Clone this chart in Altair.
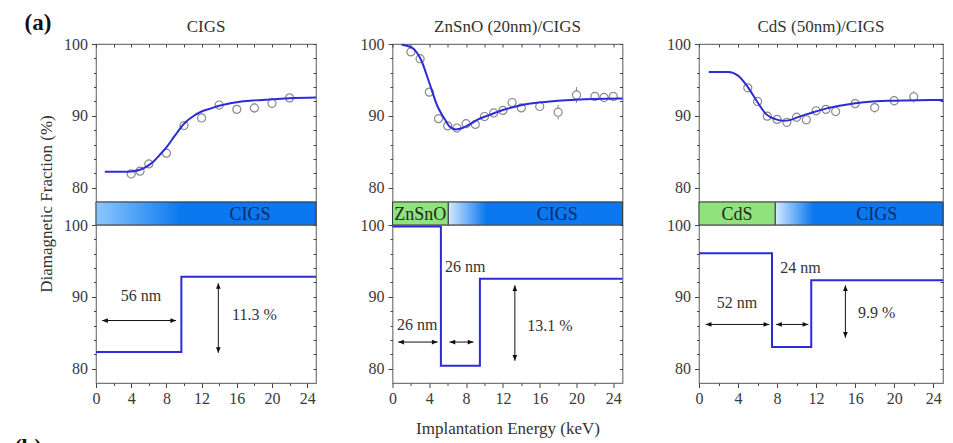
import altair as alt
import pandas as pd

FONT = "Liberation Serif"
LINE = "#2b2bd9"
GRAY = "#8a8a8a"
GREEN = "#8fe27e"
BLUE = "#0b78ef"
EDGE = "#3a3a3a"
TXT = "#333333"

# ---------------- data ----------------
panel_titles = ["CIGS", "ZnSnO (20nm)/CIGS", "CdS (50nm)/CIGS"]

# measured diamagnetic fraction (top panels)
cigs_x = [4, 5, 6, 8, 10, 12, 14, 16, 18, 20, 22]
cigs_y = [81.9, 82.3, 83.3, 84.8, 88.65, 89.7, 91.5, 90.9, 91.1, 91.75, 92.5]
cigs_err = [0.3, 0.3, 0.3, 0.4, 0.4, 0.4, 0.5, 0.5, 0.7, 0.7, 0.5]

zto_x = [2, 3, 4, 5, 6, 7, 8, 9, 10, 11, 12, 13, 14, 16, 18, 20, 22, 23, 24]
zto_y = [98.9, 97.95, 93.3, 89.6, 88.6, 88.3, 88.9, 88.8, 89.9, 90.4, 90.75, 91.85,
         91.1, 91.3, 90.5, 92.9, 92.7, 92.55, 92.7]
zto_err = [0.5, 0.5, 0.5, 0.4, 0.4, 0.4, 0.4, 0.4, 0.4, 0.4, 0.4, 0.5, 0.5, 0.6,
           1.0, 1.1, 0.5, 0.5, 0.5]

cds_x = [5, 6, 7, 8, 9, 10, 11, 12, 13, 14, 16, 18, 20, 22]
cds_y = [93.9, 92.0, 89.95, 89.5, 89.1, 89.8, 89.45, 90.7, 90.9, 90.6, 91.7, 91.15,
         92.1, 92.65]
cds_err = [0.4, 0.4, 0.4, 0.4, 0.4, 0.4, 0.4, 0.5, 0.5, 0.5, 0.5, 0.7, 0.7, 0.8]

# fitted curves (top panels)
cigs_fit_x = [1, 2, 3, 4, 5, 5.8, 6.5, 7.2, 8, 9, 10, 11, 12, 13, 14, 16, 18, 20, 22, 25]
cigs_fit_y = [82.2, 82.2, 82.2, 82.25, 82.5, 82.95, 83.6, 84.5, 85.6, 87.3, 88.9, 89.9,
              90.6, 91.0, 91.4, 91.9, 92.15, 92.3, 92.45, 92.55]
zto_fit_x = [1, 2.1, 3.1, 4, 4.9, 5.6, 6.2, 6.9, 7.6, 8.3, 9.3, 10.5, 12, 13.4, 15, 16.3,
             18, 19.9, 22, 25]
zto_fit_y = [99.9, 99.5, 97.8, 94.6, 91.3, 89.7, 88.5, 88.1, 88.3, 88.75, 89.5, 90.1,
             90.8, 91.3, 91.7, 91.9, 92.1, 92.25, 92.35, 92.4]
cds_fit_x = [1, 2, 3, 4, 4.9, 5.9, 6.9, 7.9, 8.6, 9.3, 10, 11, 11.7, 13, 14.4, 16, 17.8,
             19.5, 21.2, 25]
cds_fit_y = [96.1, 96.1, 96.1, 95.6, 94.2, 92.1, 90.2, 89.5, 89.3, 89.4, 89.75, 90.2,
             90.5, 91.0, 91.4, 91.75, 92.0, 92.1, 92.15, 92.2]

# step profiles (bottom panels)
cigs_step_x = [0, 9.7, 25]
cigs_step_y = [82.3, 92.8, 92.8]
zto_step_x = [0, 5.26, 9.5, 25]
zto_step_y = [99.8, 80.4, 92.5, 92.5]
cds_step_x = [0, 7.48, 11.5, 25]
cds_step_y = [96.05, 83.0, 92.3, 92.3]

# annotations: horizontal arrows (x1, x2, y), vertical arrows (x, ytop, ybottom), labels
harrows = [
    [(0.7, 9.1, 86.7)],
    [(0.62, 4.9, 83.7), (6.2, 8.8, 83.7)],
    [(0.69, 7.2, 86.15), (7.9, 11.2, 86.15)],
]
varrows = [
    [(13.9, 91.9, 82.2)],
    [(13.3, 91.6, 81.1)],
    [(15.0, 91.6, 84.3)],
]
labels = [
    [("56 nm", 5.1, 90.05), ("11.3 %", 18.0, 87.5)],
    [("26 nm", 2.7, 86.05), ("26 nm", 7.9, 94.2), ("13.1 %", 17.1, 85.9)],
    [("52 nm", 3.9, 89.2), ("24 nm", 10.4, 94.05), ("9.9 %", 18.2, 87.8)],
]

# layer strips: green cap layer (x1, x2, label) and CIGS gradient start / full-blue point
cap_layers = [None, (0, 6.05, "ZnSnO"), (0, 7.8, "CdS")]
cigs_start = [0, 6.05, 7.8]
cigs_full = [9.6, 10.2, 11.7]
cigs_light = ["#8cc8ff", "#d4eaff", "#d4eaff"]
cigs_label_x = [17.5, 17.9, 18.2]

meas_x = [cigs_x, zto_x, cds_x]
meas_y = [cigs_y, zto_y, cds_y]
meas_e = [cigs_err, zto_err, cds_err]
fit_x = [cigs_fit_x, zto_fit_x, cds_fit_x]
fit_y = [cigs_fit_y, zto_fit_y, cds_fit_y]
step_x = [cigs_step_x, zto_step_x, cds_step_x]
step_y = [cigs_step_y, zto_step_y, cds_step_y]

# ---------------- layout ----------------
WIDTHS = [220, 230, 244]
H = 158
STRIP_H = 23
ARROW = "M0,0L-1.8,-0.75L-1.8,0.75Z"

xscale = alt.Scale(domain=[0, 25], nice=False, zero=False)
yscale = alt.Scale(domain=[78, 100], nice=False, zero=False)
yvals = list(range(80, 101, 2))
xvals = list(range(0, 25, 2))

left_y = alt.Axis(values=yvals, title=None, domain=False, grid=False, ticks=True,
                  labelExpr="datum.value % 10 === 0 ? datum.label : ''",
                  tickSize={"condition": {"test": "datum.value % 10 !== 0", "value": 2.5}, "value": 4.5},
                  labelPadding=4, labelOverlap=False, labelFlush=False)
right_y = alt.Axis(orient="right", values=yvals, title=None, domain=False, grid=False,
                   ticks=True, labels=False, tickSize=3, offset=-3)
top_x = alt.Axis(orient="top", values=xvals, title=None, domain=False, grid=False,
                 ticks=True, labels=False, tickSize=3, offset=-3)


def bottom_x(title):
    kw = dict(orient="bottom", values=xvals, domain=False, grid=False, ticks=True,
              labelExpr="datum.value % 4 === 0 ? datum.label : ''",
              tickSize={"condition": {"test": "datum.value % 4 !== 0", "value": 2.5}, "value": 4.5},
              labelPadding=3, labelOverlap=False, labelFlush=False)
    if title:
        kw.update(title=title, titlePadding=14)
    else:
        kw.update(title=None)
    return alt.Axis(**kw)


def mirror_layer(df):
    # invisible layer that only carries the mirrored right-hand y axis
    return alt.Chart(df).mark_point(opacity=0).encode(
        y=alt.Y("y:Q", scale=yscale, axis=right_y))


def top_chart(i):
    fit = pd.DataFrame({"x": fit_x[i], "y": fit_y[i]})
    pts = pd.DataFrame({"x": meas_x[i], "y": meas_y[i]})
    pts["lo"] = [a - b for a, b in zip(meas_y[i], meas_e[i])]
    pts["hi"] = [a + b for a, b in zip(meas_y[i], meas_e[i])]
    X = alt.X("x:Q", scale=xscale, axis=top_x)
    line = alt.Chart(fit).mark_line(color=LINE, strokeWidth=2, interpolate="monotone").encode(
        x=X, y=alt.Y("y:Q", scale=yscale, axis=left_y))
    err = alt.Chart(pts).mark_rule(color=GRAY, strokeWidth=1).encode(
        x=X, y=alt.Y("lo:Q", scale=yscale, axis=left_y), y2="hi:Q")
    dots = alt.Chart(pts).mark_point(shape="circle", filled=True, fill="white", stroke=GRAY,
                                     size=65, strokeWidth=1.2, opacity=1,
                                     fillOpacity=1).encode(
        x=X, y=alt.Y("y:Q", scale=yscale, axis=left_y))
    return alt.layer(alt.layer(err, dots, line), mirror_layer(fit)).resolve_axis(
        x="independent", y="independent").properties(
        width=WIDTHS[i], height=H,
        title=alt.TitleParams(panel_titles[i], font=FONT, fontSize=17, fontWeight="normal",
                              color=TXT, frame="group", offset=0))


def strip_chart(i):
    X = alt.X("x1:Q", scale=xscale, axis=None)
    parts = []
    span = 25 - cigs_start[i]
    grad = alt.LinearGradient(
        gradient="linear", x1=0, y1=0, x2=1, y2=0,
        stops=[alt.GradientStop(color=cigs_light[i], offset=0),
               alt.GradientStop(color=BLUE, offset=(cigs_full[i] - cigs_start[i]) / span),
               alt.GradientStop(color=BLUE, offset=1)])
    blue = alt.Chart(pd.DataFrame({"x1": [cigs_start[i]], "x2": [25]})).mark_rect(
        color=grad, stroke=EDGE, strokeWidth=1).encode(
        x=X, x2="x2:Q", y=alt.value(0), y2=alt.value(STRIP_H))
    parts.append(blue)
    texts = [("CIGS", cigs_label_x[i], "#0c2a66")]
    if cap_layers[i] is not None:
        a, b, name = cap_layers[i]
        green = alt.Chart(pd.DataFrame({"x1": [a], "x2": [b]})).mark_rect(
            color=GREEN, stroke=EDGE, strokeWidth=1).encode(
            x=X, x2="x2:Q", y=alt.value(0), y2=alt.value(STRIP_H))
        parts.append(green)
        texts.append((name, (a + b) / 2, "#1c2c1c"))
    for t, xx, col in texts:
        parts.append(alt.Chart(pd.DataFrame({"t": [t], "x1": [xx]})).mark_text(
            font=FONT, fontSize=18, color=col, align="center", baseline="middle").encode(
            x=X, y=alt.value(STRIP_H / 2 + 1), text="t:N"))
    if i == 0:
        parts.append(alt.Chart(pd.DataFrame({"t": ["Diamagnetic Fraction (%)"]})).mark_text(
            font=FONT, fontSize=17, color=TXT, angle=270, align="center",
            baseline="middle").encode(x=alt.value(-49), y=alt.value(2), text="t:N"))
        parts.append(alt.Chart(pd.DataFrame({"t": ["(a)"]})).mark_text(
            font=FONT, fontSize=23, fontWeight="bold", color="#111", align="center",
            baseline="middle").encode(x=alt.value(-58), y=alt.value(-179), text="t:N"))
    return alt.layer(*parts).properties(width=WIDTHS[i], height=STRIP_H)


def bottom_chart(i):
    xa = bottom_x("Implantation Energy (keV)" if i == 1 else None)
    X = lambda f: alt.X(f, scale=xscale, axis=xa)
    Y = lambda f: alt.Y(f, scale=yscale, axis=left_y)
    st = pd.DataFrame({"x": step_x[i], "y": step_y[i]})
    step = alt.Chart(st).mark_line(color=LINE, strokeWidth=2, interpolate="step-after").encode(
        x=X("x:Q"), y=Y("y:Q"))
    ha = pd.DataFrame(harrows[i], columns=["x", "x2", "y"])
    va = pd.DataFrame(varrows[i], columns=["x", "y", "y2"])
    hr = alt.Chart(ha).mark_rule(color="#111", strokeWidth=1).encode(
        x=X("x:Q"), x2="x2:Q", y=Y("y:Q"))
    vr = alt.Chart(va).mark_rule(color="#111", strokeWidth=1).encode(
        x=X("x:Q"), y=Y("y:Q"), y2="y2:Q")
    heads = []
    for x1, x2, y in harrows[i]:
        heads += [(x1, y, 180), (x2, y, 0)]
    for x, y1, y2 in varrows[i]:
        heads += [(x, y1, 270), (x, y2, 90)]
    hd = pd.DataFrame(heads, columns=["x", "y", "a"])
    hp = alt.Chart(hd).mark_point(shape=ARROW, filled=True, color="#111", size=40,
                                  opacity=1).encode(
        x=X("x:Q"), y=Y("y:Q"), angle=alt.Angle("a:Q", scale=None))
    lb = pd.DataFrame(labels[i], columns=["t", "x", "y"])
    tx = alt.Chart(lb).mark_text(font=FONT, fontSize=16, color=TXT, align="center",
                                 baseline="middle").encode(
        x=X("x:Q"), y=Y("y:Q"), text="t:N")
    parts = [step, hr, vr, hp, tx]
    if i == 0:
        parts.append(alt.Chart(pd.DataFrame({"t": ["(b)"]})).mark_text(
            font=FONT, fontSize=23, fontWeight="bold", color="#111", align="center",
            baseline="top").encode(x=alt.value(-68), y=alt.value(212), text="t:N"))
    return alt.layer(alt.layer(*parts), mirror_layer(st)).resolve_axis(
        x="independent", y="independent").properties(width=WIDTHS[i], height=H)


cells = [top_chart(i) for i in range(3)] + [strip_chart(i) for i in range(3)] + \
        [bottom_chart(i) for i in range(3)]

chart = alt.concat(*cells, columns=3, spacing={"row": 0, "column": 76.5},
                   bounds="flush", align="each").properties(
    padding={"left": 13, "top": 11, "right": 5, "bottom": 0}
).configure_view(stroke="#777777", strokeWidth=1.2).configure_axis(
    labelFont=FONT, labelFontSize=16, labelColor="#3a3a3a", tickColor="#444444",
    tickWidth=1, titleFont=FONT, titleFontSize=17, titleFontWeight="normal", titleColor=TXT
)

chart.save("out.html", embed_options={"renderer": "svg", "actions": False})
